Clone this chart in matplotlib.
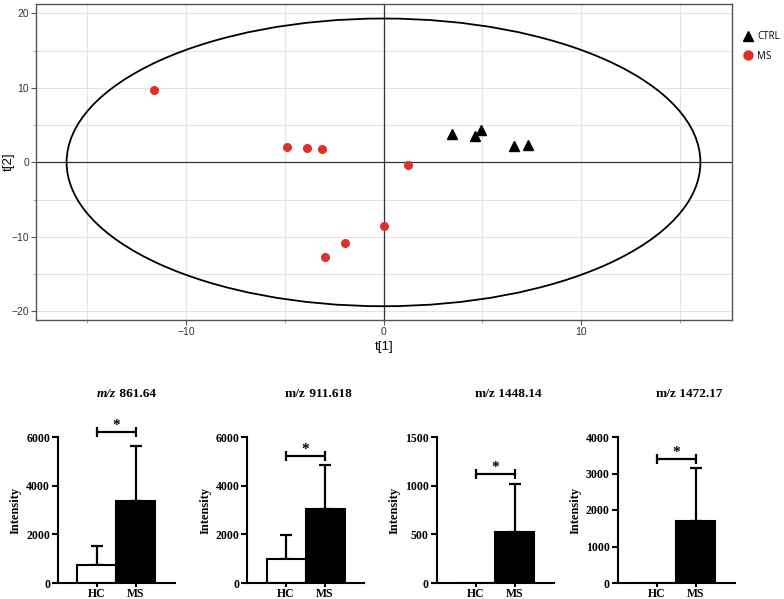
import numpy as np
import matplotlib
matplotlib.use('Agg')
import matplotlib.pyplot as plt
from matplotlib.patches import Ellipse
from matplotlib.lines import Line2D

#-------------------------------- DATA -------------------------------------
# PCA score plot t[1] / t[2]
ms_t1 = [-11.6, -4.9, -3.85, -3.1, 0.05, -1.95, -2.95, 1.25]
ms_t2 = [9.7, 2.1, 1.9, 1.75, -8.5, -10.8, -12.7, -0.4]
ctrl_t1 = [3.45, 4.65, 4.95, 6.6, 7.3]
ctrl_t2 = [3.75, 3.5, 4.3, 2.2, 2.3]
ellipse_a = 16.05   # Hotelling T2 ellipse half-axes
ellipse_b = 19.3

# Bar panels
mz_values = ['861.64', '911.618', '1448.14', '1472.17']
groups = ['HC', 'MS']
hc_mean = [740, 980, 0, 0]
hc_err = [800, 1000, 0, 0]
ms_mean = [3350, 3050, 525, 1700]
ms_err = [2290, 1810, 490, 1455]
y_max = [6000, 6000, 1500, 4000]
y_step = [2000, 2000, 500, 1000]
sig_y = [6190, 5200, 1115, 3410]

#-------------------------------- FIGURE -------------------------------------
W, H = 784, 599
fig = plt.figure(figsize=(W / 100, H / 100), dpi=100)

def px_axes(left, top, right, bottom):
    return fig.add_axes([left / W, 1 - bottom / H, (right - left) / W, (bottom - top) / H])

#-------------------------------- SCORE PLOT -------------------------------------
sans = 'Liberation Sans'
ax = px_axes(36, 4, 732, 320)
ax.set_xlim(-17.6, 17.65)
ax.set_ylim(-21.15, 21.25)
ax.set_xticks([-10, 0, 10])
ax.set_yticks([-20, -10, 0, 10, 20])
ax.set_xticks([-15, -5, 5, 15], minor=True)
ax.set_yticks([-15, -5, 5, 15], minor=True)
ax.grid(True, which='both', color='#e4e4e4', linewidth=0.8)
ax.set_axisbelow(True)
ax.axhline(0, color='#333333', linewidth=0.9, zorder=1)
ax.axvline(0, color='#333333', linewidth=0.9, zorder=1)
ax.add_patch(Ellipse((0, 0), 2 * ellipse_a, 2 * ellipse_b, fill=False,
                     edgecolor='black', linewidth=1.3, zorder=2))
ax.plot(ms_t1, ms_t2, 'o', color='#e0302a', markersize=5.5, linestyle='none', zorder=3)
ax.plot(ctrl_t1, ctrl_t2, '^', color='black', markersize=7, linestyle='none', zorder=3)
for s in ax.spines.values():
    s.set_color('#555555')
    s.set_linewidth(1.0)
ax.tick_params(which='major', length=3.5, pad=1.5, color='#555555', labelsize=7.5, labelcolor='#333333')
ax.tick_params(which='minor', length=2, color='#999999')
for lab in ax.get_xticklabels() + ax.get_yticklabels():
    lab.set_family(sans)
ax.set_xlabel('t[1]', fontsize=9.5, family=sans, labelpad=3)
ax.set_ylabel('t[2]', fontsize=9.5, family=sans, va='center')
ax.yaxis.set_label_coords(-27 / 696, 0.5)

handles = [Line2D([], [], marker='^', color='black', markersize=7.5, linestyle='none'),
           Line2D([], [], marker='o', color='#e0302a', markersize=6.5, linestyle='none')]
fig.legend(handles, ['CTRL', 'MS'], loc='upper left', bbox_to_anchor=(744 / W, 1 - 31 / H),
           frameon=False, handlelength=0.9, handletextpad=0.45, labelspacing=0.9,
           borderpad=0, borderaxespad=0, prop={'family': 'Open Sans', 'size': 7})

#-------------------------------- BAR PANELS -------------------------------------
serif = 'Liberation Serif'
hc_centers = [96.7, 286, 475.5, 656.5]
for i in range(4):
    c = hc_centers[i]
    bx = px_axes(c - 39, 437, c + 78, 583)
    bx.set_xlim(-1, 2)
    bx.set_ylim(0, y_max[i])
    bx.bar([0], [hc_mean[i]], width=1.0, color='white', edgecolor='black', linewidth=1.5, zorder=2)
    bx.bar([1], [ms_mean[i]], width=1.0, color='black', edgecolor='black', linewidth=1.5, zorder=2)
    if hc_err[i] > 0:
        bx.errorbar([0], [hc_mean[i]], yerr=[[0], [hc_err[i]]], fmt='none', ecolor='black',
                    elinewidth=1.6, capsize=4.5, capthick=1.6, zorder=1)
    bx.errorbar([1], [ms_mean[i]], yerr=[[0], [ms_err[i]]], fmt='none', ecolor='black',
                elinewidth=1.6, capsize=4.5, capthick=1.6, zorder=1)
    # significance bracket
    bx.errorbar([0.5], [sig_y[i]], xerr=[0.5], fmt='none', ecolor='black',
                elinewidth=1.6, capsize=3.5, capthick=1.6, clip_on=False)
    bx.text(0.5, sig_y[i], '*', ha='center', va='bottom', fontsize=11, fontweight='bold',
            family=serif, transform=bx.transData, clip_on=False)

    bx.spines['top'].set_visible(False)
    bx.spines['right'].set_visible(False)
    bx.spines['left'].set_linewidth(1.5)
    bx.spines['bottom'].set_linewidth(1.5)
    bx.set_yticks(np.arange(0, y_max[i] + 1, y_step[i]))
    bx.set_xticks([0, 1])
    bx.set_xticklabels(groups)
    bx.tick_params(axis='y', length=4, width=1.5, pad=1.5)
    bx.tick_params(axis='x', length=3, width=1.5, pad=0.5)
    for lab in bx.get_xticklabels() + bx.get_yticklabels():
        lab.set_family(serif)
        lab.set_fontweight('bold')
        lab.set_fontsize(8.5)
    bx.set_ylabel('Intensity', family=serif, fontweight='bold', fontsize=9, labelpad=3)

    # title: m/z + value
    style = 'italic' if i == 0 else 'normal'
    t_y = 1 + 43 / 146
    bx.text(0.5, t_y, 'm/z', ha='right', va='center', transform=bx.transAxes,
            family=serif, fontweight='bold', fontstyle=style, fontsize=9.5)
    bx.text(0.5, t_y, ' ' + mz_values[i], ha='left', va='center', transform=bx.transAxes,
            family=serif, fontweight='bold', fontsize=9.5)

fig.savefig('out.png', dpi=100)
